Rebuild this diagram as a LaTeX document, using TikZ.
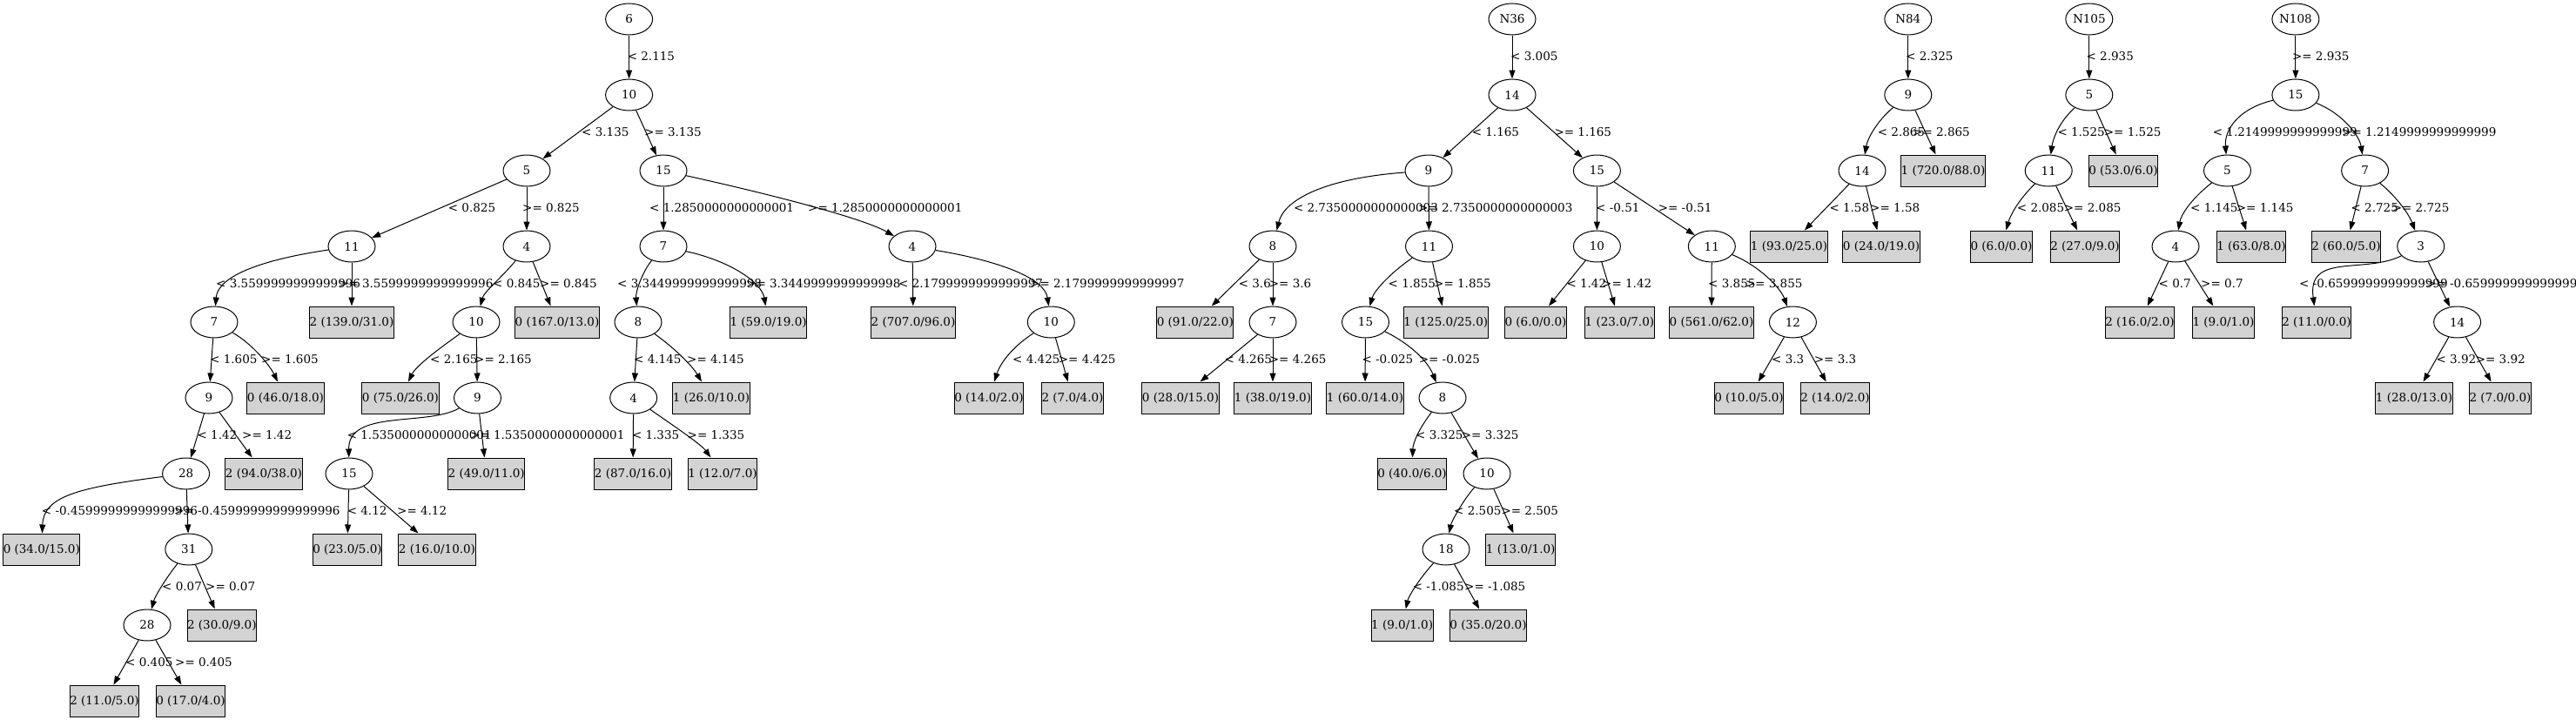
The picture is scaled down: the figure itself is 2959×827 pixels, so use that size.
\documentclass[tikz,border=0pt]{standalone}
\usepackage{fontspec}
\setmainfont{DejaVu Serif}
\newfontfamily\timesfont{Liberation Serif}
\usepackage{tikz}
\usetikzlibrary{arrows.meta,shapes.geometric}
\definecolor{leafgray}{HTML}{D3D3D3}
\newcommand{\gvfont}{\fontsize{13.5bp}{16bp}\selectfont}
\newlength{\leafw}
% leaf box: sized on Times metrics, as the layout was
\newcommand{\leaf}[3]{%
  \settowidth{\leafw}{\timesfont\fontsize{14bp}{16bp}\selectfont #3}%
  \node[leafbox, minimum width=\leafw+16bp] (#1) at (#2) {#3};}
\tikzset{
  splitnode/.style={draw, ellipse, line width=1bp, minimum width=54bp,
                    minimum height=36bp, inner sep=0pt, font=\gvfont},
  leafbox/.style={draw, fill=leafgray, rectangle, line width=1bp,
                  minimum height=36bp, inner xsep=0pt, inner ysep=0pt, font=\gvfont},
  cutlbl/.style={anchor=west, inner sep=0pt, font=\gvfont},
  arr/.style={-{Triangle[length=10bp, width=7bp]}, line width=1bp}}

\begin{document}
\begin{tikzpicture}[x=1bp, y=-1bp]
    \path[use as bounding box, fill=white] (0,0) rectangle (2959,827);

    % tree 6
    \node[splitnode] (a0) at (722.6,22) {6};
    \node[splitnode] (a1) at (722.6,109) {10};
    \node[splitnode] (a2) at (605,196) {5};
    \node[splitnode] (a3) at (762,196) {15};
    \node[splitnode] (a4) at (404,283) {11};
    \node[splitnode] (a5) at (605,283) {4};
    \node[splitnode] (a6) at (762,283) {7};
    \node[splitnode] (a7) at (1048,283) {4};
    \node[splitnode] (a8) at (246,370) {7};
    \leaf{a9}{404,370}{2 (139.0/31.0)}
    \node[splitnode] (a10) at (547,370) {10};
    \leaf{a11}{640,370}{0 (167.0/13.0)}
    \node[splitnode] (a12) at (733,370) {8};
    \leaf{a13}{882.6,370}{1 (59.0/19.0)}
    \leaf{a14}{1049,370}{2 (707.0/96.0)}
    \node[splitnode] (a15) at (1207.3,370) {10};
    \node[splitnode] (a16) at (240,457) {9};
    \leaf{a17}{328,457}{0 (46.0/18.0)}
    \leaf{a18}{460,457}{0 (75.0/26.0)}
    \node[splitnode] (a19) at (548.5,457) {9};
    \node[splitnode] (a20) at (727.7,457) {4};
    \leaf{a21}{817,457}{1 (26.0/10.0)}
    \leaf{a22}{1136,457}{0 (14.0/2.0)}
    \leaf{a23}{1232,457}{2 (7.0/4.0)}
    \node[splitnode] (a24) at (213.6,544) {28};
    \leaf{a25}{303,544}{2 (94.0/38.0)}
    \node[splitnode] (a26) at (401,544) {15};
    \leaf{a27}{558.7,544}{2 (49.0/11.0)}
    \leaf{a28}{727,544}{2 (87.0/16.0)}
    \leaf{a29}{830,544}{1 (12.0/7.0)}
    \leaf{a30}{47.8,631}{0 (34.0/15.0)}
    \node[splitnode] (a31) at (216.8,631) {31};
    \leaf{a32}{399,631}{0 (23.0/5.0)}
    \leaf{a33}{502,631}{2 (16.0/10.0)}
    \node[splitnode] (a34) at (169,718) {28};
    \leaf{a35}{254.8,718}{2 (30.0/9.0)}
    \leaf{a36}{120,805}{2 (11.0/5.0)}
    \leaf{a37}{219,805}{0 (17.0/4.0)}

    \draw[arr] (a0) -- (a1);
    \draw[arr] (a1) -- (a2);
    \draw[arr] (a1) -- (a3);
    \draw[arr] (a2) -- (a4);
    \draw[arr] (a2) -- (a5);
    \draw[arr] (a3) -- (a6);
    \draw[arr] (a3) .. controls (880,222) and (990,250) .. (a7);
    \draw[arr] (a4) .. controls (290,300) and (250,320) .. (a8);
    \draw[arr] (a4) -- (a9);
    \draw[arr] (a5) .. controls (580,315) and (556,335) .. (a10);
    \draw[arr] (a5) -- (a11);
    \draw[arr] (a6) .. controls (738,312) and (730,335) .. (a12);
    \draw[arr] (a6) .. controls (840,300) and (875,325) .. (a13);
    \draw[arr] (a7) -- (a14);
    \draw[arr] (a7) .. controls (1150,300) and (1200,320) .. (a15);
    \draw[arr] (a8) -- (a16);
    \draw[arr] (a8) .. controls (290,395) and (310,420) .. (a17);
    \draw[arr] (a10) .. controls (505,400) and (478,420) .. (a18);
    \draw[arr] (a10) -- (a19);
    \draw[arr] (a12) -- (a20);
    \draw[arr] (a12) .. controls (775,400) and (795,420) .. (a21);
    \draw[arr] (a15) .. controls (1160,400) and (1148,420) .. (a22);
    \draw[arr] (a15) -- (a23);
    \draw[arr] (a16) -- (a24);
    \draw[arr] (a16) -- (a25);
    \draw[arr] (a19) .. controls (490,490) and (400,470) .. (a26);
    \draw[arr] (a19) -- (a27);
    \draw[arr] (a20) -- (a28);
    \draw[arr] (a20) .. controls (775,490) and (805,510) .. (a29);
    \draw[arr] (a24) .. controls (90,560) and (50,570) .. (a30);
    \draw[arr] (a24) -- (a31);
    \draw[arr] (a26) -- (a32);
    \draw[arr] (a26) -- (a33);
    \draw[arr] (a31) .. controls (190,665) and (178,685) .. (a34);
    \draw[arr] (a31) -- (a35);
    \draw[arr] (a34) -- (a36);
    \draw[arr] (a34) -- (a37);

    \node[cutlbl] (xa1) at (720.6,65) {< 2.115};
    \node[cutlbl] (xa2) at (668,152) {< 3.135};
    \node[cutlbl] (xa3) at (740,152) {>= 3.135};
    \node[cutlbl] (xa4) at (514.7,239) {< 0.825};
    \node[cutlbl] (xa5) at (600,239) {>= 0.825};
    \node[cutlbl] (xa6) at (746,239) {< 1.2850000000000001};
    \node[cutlbl] (xa7) at (928,239) {>= 1.2850000000000001};
    \node[cutlbl] (xa8) at (248,326) {< 3.5599999999999996};
    \node[cutlbl] (xa9) at (389,326) {>= 3.5599999999999996};
    \node[cutlbl] (xa10) at (566,326) {< 0.845};
    \node[cutlbl] (xa11) at (620,326) {>= 0.845};
    \node[cutlbl] (xa12) at (709,326) {< 3.3449999999999998};
    \node[cutlbl] (xa13) at (857,326) {>= 3.3449999999999998};
    \node[cutlbl] (xa14) at (1032,326) {< 2.1799999999999997};
    \node[cutlbl] (xa15) at (1183,326) {>= 2.1799999999999997};
    \node[cutlbl] (xa16) at (241,413) {< 1.605};
    \node[cutlbl] (xa17) at (300,413) {>= 1.605};
    \node[cutlbl] (xa18) at (494,413) {< 2.165};
    \node[cutlbl] (xa19) at (545,413) {>= 2.165};
    \node[cutlbl] (xa20) at (728,413) {< 4.145};
    \node[cutlbl] (xa21) at (789,413) {>= 4.145};
    \node[cutlbl] (xa22) at (1163,413) {< 4.425};
    \node[cutlbl] (xa23) at (1215.7,413) {>= 4.425};
    \node[cutlbl] (xa24) at (226.4,500) {< 1.42};
    \node[cutlbl] (xa25) at (278,500) {>= 1.42};
    \node[cutlbl] (xa26) at (398.6,500) {< 1.5350000000000001};
    \node[cutlbl] (xa27) at (540,500) {>= 1.5350000000000001};
    \node[cutlbl] (xa28) at (725.8,500) {< 1.335};
    \node[cutlbl] (xa29) at (789.5,500) {>= 1.335};
    \node[cutlbl] (xa30) at (47.8,587) {< -0.45999999999999996};
    \node[cutlbl] (xa31) at (200,587) {>= -0.45999999999999996};
    \node[cutlbl] (xa32) at (398.6,587) {< 4.12};
    \node[cutlbl] (xa33) at (456,587) {>= 4.12};
    \node[cutlbl] (xa34) at (186,674) {< 0.07};
    \node[cutlbl] (xa35) at (236,674) {>= 0.07};
    \node[cutlbl] (xa36) at (144,761) {< 0.405};
    \node[cutlbl] (xa37) at (201,761) {>= 0.405};

    % tree N36
    \node[splitnode] (b0) at (1737,22) {N36};
    \node[splitnode] (b1) at (1737,109) {14};
    \node[splitnode] (b2) at (1641,196) {9};
    \node[splitnode] (b3) at (1834.4,196) {15};
    \node[splitnode] (b4) at (1462,283) {8};
    \node[splitnode] (b5) at (1641.5,283) {11};
    \node[splitnode] (b6) at (1834.4,283) {10};
    \node[splitnode] (b7) at (1966.3,283) {11};
    \leaf{b8}{1372.8,370}{0 (91.0/22.0)}
    \node[splitnode] (b9) at (1462,370) {7};
    \node[splitnode] (b10) at (1568.5,370) {15};
    \leaf{b11}{1660.8,370}{1 (125.0/25.0)}
    \leaf{b12}{1764,370}{0 (6.0/0.0)}
    \leaf{b13}{1860.4,370}{1 (23.0/7.0)}
    \leaf{b14}{1966,370}{0 (561.0/62.0)}
    \node[splitnode] (b15) at (2059.4,370) {12};
    \leaf{b16}{1356,457}{0 (28.0/15.0)}
    \leaf{b17}{1462,457}{1 (38.0/19.0)}
    \leaf{b18}{1568,457}{1 (60.0/14.0)}
    \node[splitnode] (b19) at (1657,457) {8};
    \leaf{b20}{2009,457}{0 (10.0/5.0)}
    \leaf{b21}{2108,457}{2 (14.0/2.0)}
    \leaf{b22}{1622,544}{0 (40.0/6.0)}
    \node[splitnode] (b23) at (1708,544) {10};
    \node[splitnode] (b24) at (1661,631) {18};
    \leaf{b25}{1746.7,631}{1 (13.0/1.0)}
    \leaf{b26}{1610.6,718}{1 (9.0/1.0)}
    \leaf{b27}{1709.5,718}{0 (35.0/20.0)}

    \draw[arr] (b0) -- (b1);
    \draw[arr] (b1) -- (b2);
    \draw[arr] (b1) -- (b3);
    \draw[arr] (b2) .. controls (1520,205) and (1475,230) .. (b4);
    \draw[arr] (b2) -- (b5);
    \draw[arr] (b3) -- (b6);
    \draw[arr] (b3) -- (b7);
    \draw[arr] (b4) -- (b8);
    \draw[arr] (b4) -- (b9);
    \draw[arr] (b5) .. controls (1595,315) and (1578,335) .. (b10);
    \draw[arr] (b5) -- (b11);
    \draw[arr] (b6) -- (b12);
    \draw[arr] (b6) -- (b13);
    \draw[arr] (b7) -- (b14);
    \draw[arr] (b7) .. controls (2020,305) and (2045,330) .. (b15);
    \draw[arr] (b9) -- (b16);
    \draw[arr] (b9) -- (b17);
    \draw[arr] (b10) -- (b18);
    \draw[arr] (b10) .. controls (1620,395) and (1640,415) .. (b19);
    \draw[arr] (b15) -- (b20);
    \draw[arr] (b15) -- (b21);
    \draw[arr] (b19) .. controls (1628,495) and (1623,510) .. (b22);
    \draw[arr] (b19) -- (b23);
    \draw[arr] (b23) .. controls (1680,575) and (1667,600) .. (b24);
    \draw[arr] (b23) -- (b25);
    \draw[arr] (b24) .. controls (1630,665) and (1618,685) .. (b26);
    \draw[arr] (b24) -- (b27);

    \node[cutlbl] (xb1) at (1735,65) {< 3.005};
    \node[cutlbl] (xb2) at (1690.6,152) {< 1.165};
    \node[cutlbl] (xb3) at (1785.3,152) {>= 1.165};
    \node[cutlbl] (xb4) at (1485.8,239) {< 2.7350000000000003};
    \node[cutlbl] (xb5) at (1629,239) {>= 2.7350000000000003};
    \node[cutlbl] (xb6) at (1833,239) {< -0.51};
    \node[cutlbl] (xb7) at (1904.6,239) {>= -0.51};
    \node[cutlbl] (xb8) at (1422.6,326) {< 3.6};
    \node[cutlbl] (xb9) at (1457.7,326) {>= 3.6};
    \node[cutlbl] (xb10) at (1594.5,326) {< 1.855};
    \node[cutlbl] (xb11) at (1647,326) {>= 1.855};
    \node[cutlbl] (xb12) at (1799.3,326) {< 1.42};
    \node[cutlbl] (xb13) at (1840,326) {>= 1.42};
    \node[cutlbl] (xb14) at (1962,326) {< 3.855};
    \node[cutlbl] (xb15) at (2004.7,326) {>= 3.855};
    \node[cutlbl] (xb16) at (1406.5,413) {< 4.265};
    \node[cutlbl] (xb17) at (1457.7,413) {>= 4.265};
    \node[cutlbl] (xb18) at (1564.3,413) {< -0.025};
    \node[cutlbl] (xb19) at (1629.6,413) {>= -0.025};
    \node[cutlbl] (xb20) at (2035,413) {< 3.3};
    \node[cutlbl] (xb21) at (2083.7,413) {>= 3.3};
    \node[cutlbl] (xb22) at (1626,500) {< 3.325};
    \node[cutlbl] (xb23) at (1678.7,500) {>= 3.325};
    \node[cutlbl] (xb24) at (1670,587) {< 2.505};
    \node[cutlbl] (xb25) at (1724.3,587) {>= 2.505};
    \node[cutlbl] (xb26) at (1622.6,674) {< -1.085};
    \node[cutlbl] (xb27) at (1682,674) {>= -1.085};

    % tree N84
    \node[splitnode] (c0) at (2191.8,22) {N84};
    \node[splitnode] (c1) at (2191.8,109) {9};
    \node[splitnode] (c2) at (2139,196) {14};
    \leaf{c3}{2232,196}{1 (720.0/88.0)}
    \leaf{c4}{2055,283}{1 (93.0/25.0)}
    \leaf{c5}{2161,283}{0 (24.0/19.0)}

    \draw[arr] (c0) -- (c1);
    \draw[arr] (c1) .. controls (2155,140) and (2145,160) .. (c2);
    \draw[arr] (c1) -- (c3);
    \draw[arr] (c2) -- (c4);
    \draw[arr] (c2) -- (c5);

    \node[cutlbl] (xc1) at (2189,65) {< 2.325};
    \node[cutlbl] (xc2) at (2156.6,152) {< 2.865};
    \node[cutlbl] (xc3) at (2197,152) {>= 2.865};
    \node[cutlbl] (xc4) at (2101.3,239) {< 1.58};
    \node[cutlbl] (xc5) at (2148,239) {>= 1.58};

    % tree N105
    \node[splitnode] (d0) at (2399.8,22) {N105};
    \node[splitnode] (d1) at (2399.8,109) {5};
    \node[splitnode] (d2) at (2353.2,196) {11};
    \leaf{d3}{2439,196}{0 (53.0/6.0)}
    \leaf{d4}{2299,283}{0 (6.0/0.0)}
    \leaf{d5}{2395,283}{2 (27.0/9.0)}

    \draw[arr] (d0) -- (d1);
    \draw[arr] (d1) .. controls (2365,140) and (2358,160) .. (d2);
    \draw[arr] (d1) -- (d3);
    \draw[arr] (d2) .. controls (2318,230) and (2309,248) .. (d4);
    \draw[arr] (d2) -- (d5);

    \node[cutlbl] (xd1) at (2396.4,65) {< 2.935};
    \node[cutlbl] (xd2) at (2363.3,152) {< 1.525};
    \node[cutlbl] (xd3) at (2416.7,152) {>= 1.525};
    \node[cutlbl] (xd4) at (2316.7,239) {< 2.085};
    \node[cutlbl] (xd5) at (2370.7,239) {>= 2.085};

    % tree N108
    \node[splitnode] (e0) at (2636.9,22) {N108};
    \node[splitnode] (e1) at (2636.9,109) {15};
    \node[splitnode] (e2) at (2558.5,196) {5};
    \node[splitnode] (e3) at (2716.6,196) {7};
    \node[splitnode] (e4) at (2499,283) {4};
    \leaf{e5}{2586,283}{1 (63.0/8.0)}
    \leaf{e6}{2695,283}{2 (60.0/5.0)}
    \node[splitnode] (e7) at (2780.7,283) {3};
    \leaf{e8}{2458,370}{2 (16.0/2.0)}
    \leaf{e9}{2554,370}{1 (9.0/1.0)}
    \leaf{e10}{2661,370}{2 (11.0/0.0)}
    \node[splitnode] (e11) at (2822.6,370) {14};
    \leaf{e12}{2773,457}{1 (28.0/13.0)}
    \leaf{e13}{2872,457}{2 (7.0/0.0)}

    \draw[arr] (e0) -- (e1);
    \draw[arr] (e1) .. controls (2570,125) and (2555,150) .. (e2);
    \draw[arr] (e1) .. controls (2690,130) and (2710,155) .. (e3);
    \draw[arr] (e2) .. controls (2515,230) and (2505,248) .. (e4);
    \draw[arr] (e2) -- (e5);
    \draw[arr] (e3) -- (e6);
    \draw[arr] (e3) .. controls (2755,228) and (2768,248) .. (e7);
    \draw[arr] (e4) -- (e8);
    \draw[arr] (e4) -- (e9);
    \draw[arr] (e7) .. controls (2715,315) and (2650,290) .. (e10);
    \draw[arr] (e7) -- (e11);
    \draw[arr] (e11) -- (e12);
    \draw[arr] (e11) -- (e13);

    \node[cutlbl] (xe1) at (2632.8,65) {>= 2.935};
    \node[cutlbl] (xe2) at (2541.6,152) {< 1.2149999999999999};
    \node[cutlbl] (xe3) at (2690,152) {>= 1.2149999999999999};
    \node[cutlbl] (xe4) at (2516,239) {< 1.145};
    \node[cutlbl] (xe5) at (2568.7,239) {>= 1.145};
    \node[cutlbl] (xe6) at (2700.4,239) {< 2.725};
    \node[cutlbl] (xe7) at (2747.6,239) {>= 2.725};
    \node[cutlbl] (xe8) at (2479.5,326) {< 0.7};
    \node[cutlbl] (xe9) at (2528,326) {>= 0.7};
    \node[cutlbl] (xe10) at (2641,326) {< -0.6599999999999999};
    \node[cutlbl] (xe11) at (2787,326) {>= -0.6599999999999999};
    \node[cutlbl] (xe12) at (2798.3,413) {< 3.92};
    \node[cutlbl] (xe13) at (2843.6,413) {>= 3.92};
  \end{tikzpicture}
\end{document}
